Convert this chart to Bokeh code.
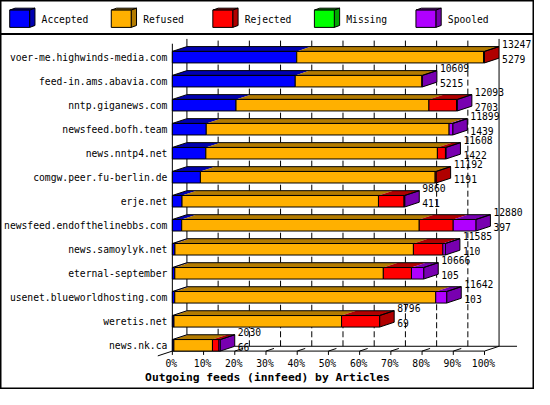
from bokeh.plotting import figure
from bokeh.models import Range1d, ColumnDataSource
from bokeh.embed import file_html
from bokeh.resources import INLINE
from bokeh.core.properties import value

# ---------------- data ----------------
feeds = [
    "voer-me.highwinds-media.com",
    "feed-in.ams.abavia.com",
    "nntp.giganews.com",
    "newsfeed.bofh.team",
    "news.nntp4.net",
    "comgw.peer.fu-berlin.de",
    "erje.net",
    "newsfeed.endofthelinebbs.com",
    "news.samoylyk.net",
    "eternal-september",
    "usenet.blueworldhosting.com",
    "weretis.net",
    "news.nk.ca",
]
offered = [13247, 10609, 12093, 11899, 11608, 11192, 9860, 12880, 11585, 10666, 11642, 8796, 2030]
accepted = [5279, 5215, 2703, 1439, 1422, 1191, 411, 397, 110, 105, 103, 69, 66]
refused = [7928, 5374, 8185, 10306, 9826, 9962, 8336, 10080, 10120, 8848, 11075, 7112, 1636]
rejected = [40, 0, 1172, 0, 342, 39, 1087, 1442, 1252, 1195, 0, 1615, 276]
missing = [0, 0, 0, 0, 0, 0, 0, 0, 0, 0, 0, 0, 0]
spooled = [0, 20, 33, 154, 18, 0, 26, 961, 103, 518, 464, 0, 52]

series_names = ["Accepted", "Refused", "Rejected", "Missing", "Spooled"]
tick_values = [0, 10, 20, 30, 40, 50, 60, 70, 80, 90, 100]
tick_labels = ["0%", "10%", "20%", "30%", "40%", "50%", "60%", "70%", "80%", "90%", "100%"]
title_text = "Outgoing feeds (innfeed) by Articles"

# ---------------- style / layout ----------------
face_colors = ["#0000ff", "#ffb000", "#ff0000", "#00ff00", "#b000ff"]
dark_colors = ["#0000b0", "#b37b00", "#b00000", "#00a800", "#7800b0"]
FONT = "DejaVu Sans Mono"
W, H = 534, 389
REF_W, REF_H = 550, 405
PX_PER_PCT = 3.215
ROW_PX = 25.0
X0_PX = 177.0
ROW0_PX = 59.0
n = len(feeds)


def ux(X):
    return (X - X0_PX) / PX_PER_PCT


def uy(Y):
    return (n - 1) - (Y - ROW0_PX) / ROW_PX


DX = 15 / PX_PER_PCT
DY = 5 / ROW_PX
HALF = 6 / ROW_PX
YF = -HALF            # front floor line
YB = YF + DY          # back floor line
Y_TOP = uy(40)

p = figure(width=W, height=H, output_backend="svg", toolbar_location=None,
           x_range=Range1d(ux(0), ux(REF_W)), y_range=Range1d(uy(REF_H), uy(0)),
           x_axis_type=None, y_axis_type=None, min_border=0)
p.outline_line_color = "black"
p.outline_line_width = 2
p.background_fill_color = "white"
p.border_fill_color = "white"

# ---------- bar geometry from data ----------
series = [accepted, refused, rejected, missing, spooled]
maxv = max(offered)
rows_y = [n - 1 - i for i in range(n)]

fl, fr, fb, ft, fc = [], [], [], [], []
txs, tys, tc = [], [], []
sxs, sys_, sc = [], [], []
oxs, oys = [], []
ends = []
for i in range(n):
    y = rows_y[i]
    yb, yt = y - HALF, y + HALF
    cum = 0
    last = 0
    for s, vals in enumerate(series):
        v = vals[i]
        if v <= 0:
            continue
        x0 = cum / maxv * 100
        cum += v
        x1 = cum / maxv * 100
        fl.append(x0); fr.append(x1); fb.append(yb); ft.append(yt); fc.append(face_colors[s])
        txs.append([x0, x1, x1 + DX, x0 + DX]); tys.append([yt, yt, yt + DY, yt + DY])
        tc.append(dark_colors[s])
        last = s
    xe = cum / maxv * 100
    ends.append(xe)
    sxs.append([xe, xe + DX, xe + DX, xe]); sys_.append([yb, yb + DY, yt + DY, yt])
    sc.append(dark_colors[last])
    oxs.append([0, xe, xe + DX, DX]); oys.append([yt, yt, yt + DY, yt + DY])


def visible_pieces(xg, y0, y1):
    """Parts of a vertical back-wall line at xg not hidden by the bars."""
    cov = []
    for i in range(n):
        yb, yt = rows_y[i] - HALF, rows_y[i] + HALF
        xe = ends[i]
        if xg <= xe:
            cov.append((yb, yt + DY))
        elif xg <= xe + DX:
            cov.append((yb + DY * (xg - xe) / DX, yt + DY))
    cov.sort()
    pieces = []
    cur = y0
    for a, b in cov:
        if a > cur:
            pieces.append((cur, min(a, y1)))
        cur = max(cur, b)
        if cur >= y1:
            break
    if cur < y1:
        pieces.append((cur, y1))
    return [(a, b) for a, b in pieces if b - a > 1e-6]


# ---------- back wall, grid, floor ----------
gx0, gy0, gx1, gy1 = [], [], [], []
for t in tick_values[1:-1]:
    for a, b in visible_pieces(t + DX, YB, Y_TOP):
        gx0.append(t + DX); gy0.append(a); gx1.append(t + DX); gy1.append(b)
p.segment(x0=gx0, y0=gy0, x1=gx1, y1=gy1, line_color="black", line_width=1, line_dash="6 3")

wx0, wy0, wx1, wy1 = [], [], [], []
for xw in [DX, 100 + DX]:
    for a, b in visible_pieces(xw, YB, Y_TOP):
        wx0.append(xw); wy0.append(a); wx1.append(xw); wy1.append(b)
p.segment(x0=wx0, y0=wy0, x1=wx1, y1=wy1, line_color="black", line_width=1)

floor_start = ends[-1] + DX
p.segment(x0=[floor_start, 0, 0, 100], y0=[YB, YF, YF, YF],
          x1=[ux(532), 0, 100, 100 + DX], y1=[YB, uy(45), YF, YB],
          line_color="black", line_width=1)
# ticks on the floor
p.segment(x0=tick_values, y0=[YF] * len(tick_values), x1=tick_values,
          y1=[YF - 4 / ROW_PX] * len(tick_values), line_color="black", line_width=1)
mid_ticks = [t for t in tick_values[1:-1] if t > ends[-1]]
p.segment(x0=mid_ticks, y0=[YF] * len(mid_ticks), x1=[t + DX * 0.55 for t in mid_ticks],
          y1=[YF + DY * 0.55] * len(mid_ticks), line_color="black", line_width=1)
p.segment(x0=[0], y0=[YF], x1=[-DX], y1=[YF - DY], line_color="black", line_width=1)

# ---------- bars ----------
p.patches(xs=txs, ys=tys, fill_color=tc, line_color=None)
p.patches(xs=sxs, ys=sys_, fill_color=sc, line_color="black", line_width=1)
p.patches(xs=oxs, ys=oys, fill_color=None, line_color="black", line_width=1)
p.quad(left=fl, right=fr, bottom=fb, top=ft, fill_color=fc, line_color="black", line_width=1)

# ---------- texts ----------
lab = ColumnDataSource(dict(x=[0] * n, y=rows_y, t=feeds))
p.text(x="x", y="y", text="t", source=lab, x_offset=-5, text_align="right",
       text_baseline="middle", text_font=value(FONT), text_font_size="9.7px", text_color="black")

val_x = [e + DX for e in ends]
p.text(x=val_x, y=[y + 14 / ROW_PX for y in rows_y], text=[str(v) for v in offered],
       x_offset=3, text_align="left", text_baseline="middle",
       text_font=value(FONT), text_font_size="9.7px", text_color="black")
p.text(x=val_x, y=[y - 1.5 / ROW_PX for y in rows_y], text=[str(v) for v in accepted],
       x_offset=3, text_align="left", text_baseline="middle",
       text_font=value(FONT), text_font_size="9.7px", text_color="black")

p.text(x=tick_values, y=[uy(378)] * len(tick_values), text=tick_labels, x_offset=-1,
       text_align="center", text_baseline="middle",
       text_font=value(FONT), text_font_size="9.7px", text_color="black")
p.text(x=[(ux(0) + ux(REF_W)) / 2], y=[uy(392)], text=[title_text],
       text_align="center", text_baseline="middle", text_font=value(FONT),
       text_font_size="11.3px", text_font_style="bold", text_color="black")

# ---------- legend ----------
p.segment(x0=[ux(0)], y0=[uy(35)], x1=[ux(REF_W)], y1=[uy(35)], line_color="black", line_width=2)
LEG_STEP = 104.6
lx0 = [ux(9.5 + LEG_STEP * k) for k in range(len(series_names))]
lx1 = [ux(30 + LEG_STEP * k) for k in range(len(series_names))]
ldx = 5.5 / PX_PER_PCT
ldy = 2 / ROW_PX
lyt, lyb = uy(10), uy(28)
p.patches(xs=[[a, b, b + ldx, a + ldx] for a, b in zip(lx0, lx1)],
          ys=[[lyt, lyt, lyt + ldy, lyt + ldy]] * len(lx0),
          fill_color=dark_colors, line_color="black", line_width=1)
p.patches(xs=[[b, b + ldx, b + ldx, b] for b in lx1],
          ys=[[lyb, lyb + ldy, lyt + ldy, lyt]] * len(lx0),
          fill_color=dark_colors, line_color="black", line_width=1)
p.quad(left=lx0, right=lx1, bottom=[lyb] * len(lx0), top=[lyt] * len(lx0),
       fill_color=face_colors, line_color="black", line_width=1)
p.text(x=[ux(42.3 + LEG_STEP * k) for k in range(len(series_names))],
       y=[uy(20)] * len(series_names), text=series_names, text_align="left",
       text_baseline="middle", text_font=value(FONT), text_font_size="9.7px", text_color="black")

open("out.html", "w").write(file_html(p, INLINE))
